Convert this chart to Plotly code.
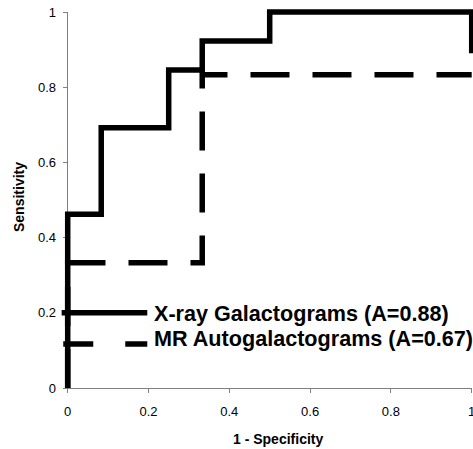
import plotly.graph_objects as go

# ---- data ----
xray_fpr = [0, 0, 0.083, 0.083, 0.25, 0.25, 0.333, 0.333, 0.5, 0.5, 1, 1]
xray_tpr = [0, 0.462, 0.462, 0.692, 0.692, 0.846, 0.846, 0.923, 0.923, 1, 1, 0.89]
mr_fpr = [0, 0, 0.333, 0.333, 1]
mr_tpr = [0, 0.333, 0.333, 0.833, 0.833]

series_names = ["X-ray Galactograms (A=0.88)", "MR Autogalactograms (A=0.67)"]
key_x_xray = [-0.015, 0.197]
key_y_xray = [0.2, 0.2]
key_x_mr = [-0.011, 0.197]
key_y_mr = [0.117, 0.117]

tick_vals = [0, 0.2, 0.4, 0.6, 0.8, 1]
tick_text = ["0", "0.2", "0.4", "0.6", "0.8", "1"]

x_title = "1 - Specificity"
y_title = "Sensitivity"

# ---- geometry ----
W, H = 473, 449
x0px, x1px = 67.7, 471.7   # pixel of x=0 and x=1
y0px, y1px = 388.0, 12.0   # pixel of y=0 and y=1
sx = (x1px - x0px)
sy = (y0px - y1px)

FONT = "Arial, Liberation Sans, sans-serif"
LW = 5.5

fig = go.Figure()

# empty trace so the visible axis pair is drawn
fig.add_trace(go.Scatter(x=[], y=[], xaxis="x", yaxis="y", showlegend=False, hoverinfo="skip"))

fig.add_trace(go.Scatter(x=mr_fpr, y=mr_tpr, mode="lines", xaxis="x2", yaxis="y2",
                         line=dict(color="black", width=LW, dash="39px,23px"),
                         showlegend=False, hoverinfo="skip"))
fig.add_trace(go.Scatter(x=xray_fpr, y=xray_tpr, mode="lines", xaxis="x2", yaxis="y2",
                         line=dict(color="black", width=LW),
                         showlegend=False, hoverinfo="skip"))
fig.add_trace(go.Scatter(x=key_x_xray, y=key_y_xray, mode="lines", xaxis="x2", yaxis="y2",
                         line=dict(color="black", width=LW),
                         showlegend=False, hoverinfo="skip"))
fig.add_trace(go.Scatter(x=key_x_mr, y=key_y_mr, mode="lines", xaxis="x2", yaxis="y2",
                         line=dict(color="black", width=LW, dash="30px,32px"),
                         showlegend=False, hoverinfo="skip"))

axis_common = dict(showgrid=False, zeroline=False, showline=True, linecolor="#808080",
                   linewidth=1, ticks="outside", ticklen=4, tickcolor="#808080", tickwidth=1,
                   tickvals=tick_vals, ticktext=tick_text, range=[0, 1], automargin=False,
                   ticklabeloverflow="allow",
                   tickfont=dict(family=FONT, size=13, color="black"), fixedrange=True)

fig.update_layout(
    width=W, height=H,
    margin=dict(l=0, r=0, t=0, b=0),
    paper_bgcolor="white", plot_bgcolor="rgba(0,0,0,0)",
    showlegend=False,
    xaxis=dict(domain=[x0px / W, x1px / W], anchor="y", ticklabelstandoff=7, **axis_common),
    yaxis=dict(domain=[(H - y0px) / H, (H - y1px) / H], anchor="x", ticklabelstandoff=4, **axis_common),
    xaxis2=dict(domain=[0, 1], anchor="y2", visible=False,
                range=[(0 - x0px) / sx, (W - x0px) / sx], fixedrange=True),
    yaxis2=dict(domain=[0, 1], anchor="x2", visible=False,
                range=[(y0px - H) / sy, (y0px - 0) / sy], fixedrange=True),
)

anns = [
    dict(text=f"<b>{x_title}</b>", xref="paper", yref="paper", x=277.5 / W, y=(H - 439) / H,
         xanchor="center", yanchor="middle", showarrow=False,
         font=dict(family=FONT, size=14, color="black")),
    dict(text=f"<b>{y_title}</b>", xref="paper", yref="paper", x=19 / W, y=(H - 197) / H,
         xanchor="center", yanchor="middle", showarrow=False, textangle=-90,
         font=dict(family=FONT, size=14, color="black")),
    dict(text=f"<b>{series_names[0]}</b>", xref="x2", yref="y2", x=0.2087, y=0.198,
         xanchor="left", yanchor="middle", showarrow=False,
         font=dict(family=FONT, size=21.6, color="black")),
    dict(text=f"<b>{series_names[1]}</b>", xref="x2", yref="y2", x=0.2087, y=0.132,
         xanchor="left", yanchor="middle", showarrow=False,
         font=dict(family=FONT, size=21.6, color="black")),
]
fig.update_layout(annotations=anns)

fig.write_html(
    "out.html",
    config={"displayModeBar": False, "staticPlot": True},
    post_script="document.body.style.margin='0';document.body.style.overflow='hidden';",
)
